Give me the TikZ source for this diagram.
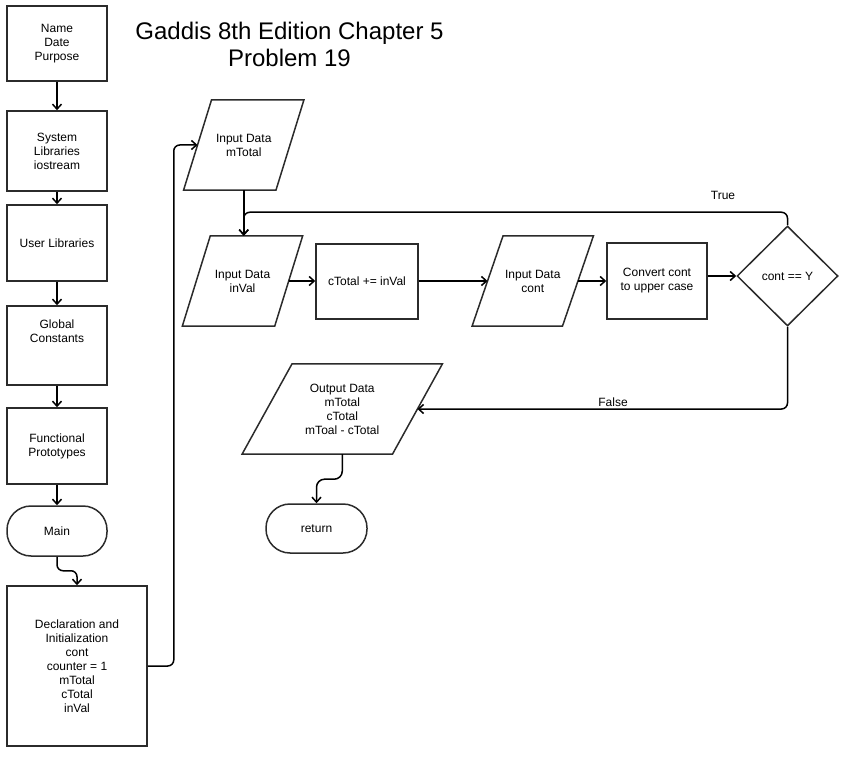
\documentclass[tikz,border=0pt]{standalone}
\usepackage{fontspec}
\setmainfont{Liberation Sans}
\usetikzlibrary{shapes.geometric,arrows.meta}
\definecolor{boxc}{HTML}{2B2B2B}
\begin{document}
\begin{tikzpicture}[x=1pt,y=-1pt,
  txt/.style={font=\fontsize{12}{14}\selectfont, align=center, inner sep=0pt},
  shp/.style={txt, draw=boxc, line width=1.5pt},
  proc/.style={shp, rectangle, minimum width=100pt},
  term/.style={shp, rectangle, rounded corners=24pt, minimum width=100pt, minimum height=50pt},
  boxline/.style={draw=boxc, line width=1.5pt, line join=miter},
  conn/.style={draw=black, line width=1.5pt, -{Straight Barb[length=5pt,width=9pt]}},
  elbow/.style={rounded corners=6pt}
]
\useasboundingbox (0,0) rectangle (867,759);

% title
\node[font=\fontsize{24}{27}\selectfont, align=center, inner sep=0pt] (title) at (289.5,44.5) {Gaddis 8th Edition Chapter 5\\Problem 19};

% left column
\node[proc, minimum height=75pt] (hdr) at (57,43.5) {Name\\Date\\Purpose};
\node[proc, minimum height=80pt] (sys) at (57,151) {System\\Libraries\\iostream};
\node[proc, minimum height=76pt] (usr) at (57,243) {User Libraries};
\node[proc, minimum height=79pt] (glb) at (57,345.5) {};
\node[txt] (glbt) at (57,331) {Global\\Constants};
\node[proc, minimum height=76pt] (fun) at (57,446) {Functional\\Prototypes};
\node[term] (main) at (57,531) {Main};
\node[proc, minimum width=140pt, minimum height=160pt] (decl) at (77,666) {Declaration and\\Initialization\\cont\\counter = 1\\mTotal\\cTotal\\inVal};

% parallelograms (text nodes; outlines drawn below)
\node[txt, minimum width=92pt, minimum height=90pt] (mt) at (243.75,145) {Input Data\\mTotal};
\node[txt, minimum width=92pt, minimum height=90pt] (iv) at (242.5,281) {Input Data\\inVal};
\node[txt, minimum width=90pt, minimum height=90pt] (ic) at (532.75,281) {Input Data\\cont};
\node[txt, minimum width=150pt, minimum height=90pt] (od) at (342.25,409) {Output Data\\mTotal\\cTotal\\mToal - cTotal};
\foreach \n/\s in {mt/14,iv/14,ic/15.5,od/25}
  \draw[boxline] ([xshift=\s]\n.north west) -- ([xshift=\s]\n.north east)
     -- ([xshift=-\s]\n.south east) -- ([xshift=-\s]\n.south west) -- cycle;

% processes
\node[proc, minimum width=102pt, minimum height=75pt] (ct) at (367,281.5) {cTotal += inVal};
\node[proc, minimum height=76pt] (cv) at (657,281) {Convert cont\\to upper case};
\node[shp, diamond, minimum width=101pt, minimum height=100pt] (dia) at (787.5,276) {cont == Y};
\node[term, minimum width=101pt, minimum height=49pt] (ret) at (316.5,528.5) {return};

% labels
\node[txt] (tl) at (723,195) {True};
\node[txt] (fl) at (613,402) {False};

% connectors
\draw[conn] (hdr.south) -- (sys.north);
\draw[conn] (sys.south) -- (usr.north);
\draw[conn] (usr.south) -- (glb.north);
\draw[conn] (glb.south) -- (fun.north);
\draw[conn] (fun.south) -- (main.north);
\draw[conn, elbow] (main.south) -- ++(0,14) -| (decl.north);
\draw[conn, elbow] (decl.east) -- ++(26,0) |- (mt.west);
\draw[conn] (mt.south) -- (mt.south |- iv.north);
\draw[conn, elbow] (dia.north) -- ++(0,-13) -| (mt.south |- iv.north);
\draw[conn] (iv.east) -- (iv.east -| ct.west);
\draw[conn] (ct.east |- ic.west) -- (ic.west);
\draw[conn] (ic.east) -- (ic.east -| cv.west);
\draw[conn] (cv.east |- dia.west) -- (dia.west);
\draw[conn, elbow] (dia.south) |- (od.east);
\draw[conn, rounded corners=8pt] (od.south) -- ++(0,25) -| (ret.north);
\end{tikzpicture}
\end{document}
